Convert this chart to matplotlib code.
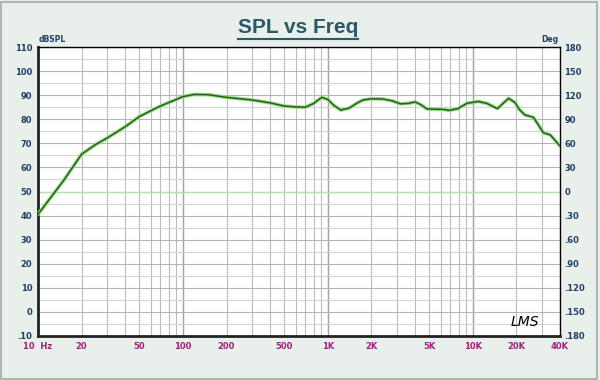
import matplotlib
matplotlib.use("Agg")
import matplotlib.pyplot as plt
from matplotlib.ticker import FixedLocator, NullFormatter

# Data
freq_hz = [10, 15, 20, 25, 30, 40, 50, 60, 70, 85, 100, 120, 150, 200, 300,
           400, 500, 600, 700, 800, 908, 1000, 1100, 1227, 1400, 1600, 1750,
           2000, 2400, 2800, 3170, 3600, 4000, 4400, 4820, 6200, 6900, 7900,
           9100, 10900, 12500, 14800, 16200, 17700, 19600, 21000, 22900, 26200,
           28500, 30700, 34300, 40000]
spl_db = [40.5, 54.5, 65.5, 69.5, 72.2, 76.9, 81.1, 83.5, 85.5, 87.6, 89.4,
          90.3, 90.2, 89.1, 88.0, 86.8, 85.5, 85.1, 85.0, 86.6, 89.1, 88.2,
          85.8, 83.8, 84.6, 86.8, 88.0, 88.5, 88.4, 87.6, 86.4, 86.6, 87.2,
          86.0, 84.3, 84.1, 83.7, 84.4, 86.6, 87.4, 86.6, 84.4, 86.6, 88.7,
          86.9, 84.0, 81.8, 80.8, 77.5, 74.4, 73.5, 68.9]

x_ticks = [10, 20, 50, 100, 200, 500, 1000, 2000, 5000, 10000, 20000, 40000]
x_labels = ["10  Hz", "20", "50", "100", "200", "500", "1K", "2K", "5K", "10K", "20K", "40K"]
db_ticks = list(range(-10, 111, 10))
deg_ticks = list(range(-180, 181, 30))

fig = plt.figure(figsize=(6, 3.8), dpi=100)
fig.patch.set_facecolor("#e9efeb")
fig.patches.append(plt.Rectangle((0.002, 0.003), 0.993, 0.992, transform=fig.transFigure,
                                 fill=False, edgecolor="#b0b6b2", linewidth=1.5))

ax = fig.add_axes([0.0633, 0.1158, 0.87, 0.7605])
ax.set_facecolor("white")
ax.set_xscale("log")
ax.set_xlim(10, 40000)
ax.set_ylim(-10, 110)

minor_x = []
for dec in [10, 100, 1000, 10000]:
    for m in range(1, 10):
        v = dec * m
        if 10 <= v <= 40000:
            minor_x.append(v)
for v in minor_x:
    ax.axvline(v, color="#bcbcbc", linewidth=0.8, zorder=1)
for v in [100, 1000, 10000]:
    ax.axvline(v, color="#a4a4a4", linewidth=1.0, zorder=1)
for v in range(-10, 111, 5):
    ax.axhline(v, color="#d4d4d4" if v % 10 else "#b4b4b4", linewidth=0.8, zorder=1)
ax.axhline(50, color="#b0e4a8", linewidth=1.0, zorder=2)

ax.plot(freq_hz, spl_db, color="#8fe07a", linewidth=2.6, zorder=3,
        solid_capstyle="round", solid_joinstyle="round")
ax.plot(freq_hz, spl_db, color="#2e5a28", linewidth=1.1, zorder=4,
        solid_joinstyle="round")

ax.xaxis.set_major_locator(FixedLocator(x_ticks))
ax.set_xticklabels(x_labels)
ax.xaxis.set_minor_formatter(NullFormatter())
ax.tick_params(axis="x", which="both", length=0, pad=4, labelsize=6, labelcolor="#a0207f")
for t in ax.get_xticklabels():
    t.set_fontweight("bold")

ax.set_yticks(db_ticks)
ax.set_yticklabels([str(v) if v >= 0 else "." + str(-v) for v in db_ticks])
ax.tick_params(axis="y", length=0, pad=4, labelsize=6, labelcolor="#1f3f66")
for t in ax.get_yticklabels():
    t.set_fontweight("bold")

for s in ["top", "right"]:
    ax.spines[s].set_linewidth(1.0)
    ax.spines[s].set_color("black")
for s in ["left", "bottom"]:
    ax.spines[s].set_linewidth(2.0)
    ax.spines[s].set_color("#222222")

ax2 = ax.twinx()
ax2.set_ylim(-180, 180)
ax2.set_yticks(deg_ticks)
ax2.set_yticklabels([str(v) if v >= 0 else "." + str(-v) for v in deg_ticks])
ax2.tick_params(axis="y", length=0, pad=3, labelsize=6, labelcolor="#1f3f66")
for t in ax2.get_yticklabels():
    t.set_fontweight("bold")
for s in ax2.spines.values():
    s.set_visible(False)

fig.text(0.065, 0.883, "dBSPL", fontsize=5.5, fontweight="bold", color="#1f3f66", ha="left", va="bottom")
fig.text(0.93, 0.883, "Deg", fontsize=5.5, fontweight="bold", color="#1f3f66", ha="right", va="bottom")
fig.text(0.497, 0.927, "SPL vs Freq", fontsize=15, fontweight="bold", color="#2a5a6a",
         ha="center", va="center", family="Liberation Sans")
fig.add_artist(plt.Line2D([0.396, 0.597], [0.897, 0.897], transform=fig.transFigure,
                          color="#2a5a6a", linewidth=1.5))
ax.text(0.96, 0.025, "LMS", transform=ax.transAxes, fontsize=10, style="italic",
        color="black", ha="right", va="bottom", family="DejaVu Sans", fontweight="light")

fig.savefig("out.png", dpi=100, facecolor=fig.get_facecolor())
